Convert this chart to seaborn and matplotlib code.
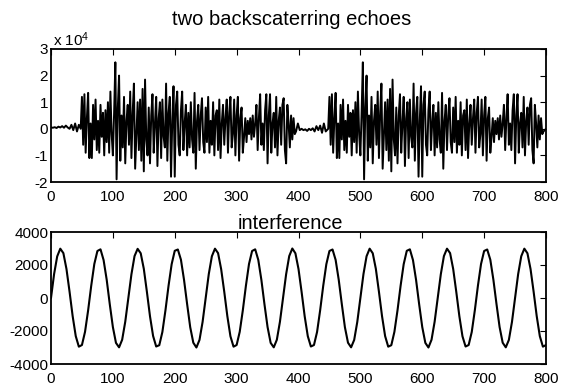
import numpy as np
import pandas as pd
import matplotlib
matplotlib.use("Agg")
import matplotlib.pyplot as plt
import seaborn as sns

# ---------------- data ----------------
# top panel, values in units of 1e4
quiet_a = [0.05, 0.04, 0.06, 0.03, 0.08, 0.05, 0.10, 0.04, 0.12, 0.05,
           0.00, 0.15, -0.05, 0.20, -0.10, 0.15]            # samples 0..45, step 3
echo = [0.0, 1.2, -0.6, 1.3, -0.9, 0.4, 1.35, -1.1, 0.2, -1.1,
        0.9, -0.4, 1.1, -0.8, 0.3, -0.9, 0.9, -0.3, 0.6, -1.0,
        0.7, -0.5, 1.0, -0.9, 1.4, -0.2, -1.0,
        0.6, 2.5, -1.9, 0.8, 2.0, -1.2, 0.5, -0.7, 1.2, -1.3,
        0.3, 0.9, -0.6, 1.4, -1.1, 0.6, 1.7, -1.5, -0.2, 1.0,
        -0.8, 1.1, -1.2, 1.5, -1.6,
        1.85, -0.4, -1.0, 0.8, -1.3, 0.5, 1.3, -0.9, 0.2, 1.2,
        -1.4, 0.4, 1.0, -1.1, 1.1, -0.3, -0.7, 1.7, -1.2, 0.6,
        1.2, -1.8, 0.3, 1.6, -1.8,
        0.9, 1.4, -0.6, -1.0, 0.7, 1.4, -0.8, 0.2, 0.9, -1.0,
        0.6, -0.7, 1.0, -0.4, -0.9, 1.35, -1.5, 0.3, 0.9, -0.8,
        0.5, 1.15, -0.5, -0.9, 0.8,
        -0.5, 1.2, -0.9, 0.3, -0.6, 1.0, -1.0, 0.5, 0.7, -0.8,
        1.1, -1.1, 0.2, 0.9, -0.6, 0.4, 1.1, -0.9, 0.6, 1.2,
        -0.7, -0.2, 1.1, -1.0, 0.5,
        1.2, -1.2, 0.4, 0.8, -0.9, -0.3, 0.4, -0.5, 0.3, -0.2,
        0.4, -0.4, 0.5, -0.3, 0.2, 0.9, -0.8, 0.4, 1.3, -0.6,
        0.2, -0.8, 0.7, 1.3, -1.3,
        0.5, 1.3, -0.9, 0.2, 0.6, -0.7, 1.2, -1.0, 0.3, 0.8,
        -0.6, 0.9, 1.15, -0.8, -1.3, 0.9, 0.2, -0.7, 0.5, -0.4,
        0.4, -0.2, -0.1]                                     # step 2, starts at 48 and at 448
quiet_b = [0.20, -0.05, 0.00, -0.05, -0.02, -0.08, 0.00, -0.05, 0.02, -0.10,
           0.10, -0.05, 0.12, -0.15, 0.20, -0.10]           # samples 399..444, step 3
tail = [0.0]                                                 # sample 800

# bottom panel, sampled every 5 samples
interference = [
    0, 1450, 2520, 2990, 2720, 1760, 380, -1100, -2310, -2950, -2850, -2050, -750, 740, 2060, 2850, 2950, 2300, 1110, -380, -1760, -2720, -2990, -2530, -1440,
    10, 1440, 2540, 2980, 2710, 1770, 370, -1110, -2300, -2940, -2860, -2060, -740, 750, 2050, 2860, 2940, 2320, 1100, -370, -1770, -2710, -3000, -2540, -1450,
    -10, 1450, 2530, 2990, 2720, 1750, 380, -1100, -2320, -2950, -2850, -2050, -750, 740, 2060, 2850, 2950, 2310, 1100, -380, -1760, -2720, -2990, -2530, -1440,
    0, 1440, 2540, 3000, 2710, 1760, 370, -1110, -2310, -2940, -2850, -2060, -740, 750, 2050, 2850, 2940, 2310, 1110, -370, -1770, -2710, -2990, -2540, -1450,
    10, 1450, 2530, 2990, 2710, 1770, 380, -1100, -2310, -2950, -2860, -2050, -750, 740, 2050, 2860, 2950, 2300, 1100, -380, -1760, -2720, -3000, -2530, -1440,
    0, 1440, 2540, 2990, 2720, 1760, 370, -1110, -2320, -2940, -2850, -2060, -740, 750, 2060, 2850, 2940, 2320, 1100, -370, -1760, -2710, -2990, -2540, -1450,
    0, 1450, 2530, 2990, 2710, 1760, 380, -1100, -2310, -2950, -2850]

top_title = "two backscaterring echoes"
bottom_title = "interference"
top_yticks = [-2, -1, 0, 1, 2, 3]
bottom_yticks = [-4000, -2000, 0, 2000, 4000]
xticks = [0, 100, 200, 300, 400, 500, 600, 700, 800]

# ---------------- assemble series ----------------
x_top = np.concatenate([
    np.arange(len(quiet_a)) * 3,
    48 + np.arange(len(echo)) * 2,
    399 + np.arange(len(quiet_b)) * 3,
    448 + np.arange(len(echo)) * 2,
    [800],
])
y_top = np.concatenate([quiet_a, echo, quiet_b, echo, tail])
df_top = pd.DataFrame({"n": x_top, "v": y_top})
df_bot = pd.DataFrame({"n": np.arange(len(interference)) * 5, "v": interference})

# ---------------- plot ----------------
sns.set_theme(style="white")
plt.rcParams["font.family"] = ["Liberation Sans", "DejaVu Sans"]
plt.rcParams["axes.unicode_minus"] = False
plt.rcParams["mathtext.fontset"] = "custom"
plt.rcParams["mathtext.rm"] = "Liberation Sans"
plt.rcParams["mathtext.it"] = "Liberation Sans"
plt.rcParams["text.color"] = "black"
plt.rcParams["axes.labelcolor"] = "black"

fig = plt.figure(figsize=(5.68, 3.87), dpi=100)
ax1 = fig.add_axes([51 / 568, 1 - 182 / 387, 495 / 568, 133 / 387])
ax2 = fig.add_axes([51 / 568, 1 - 364 / 387, 495 / 568, 132 / 387])

sns.lineplot(data=df_top, x="n", y="v", ax=ax1, color="black", lw=1.4,
             estimator=None, sort=False)
sns.lineplot(data=df_bot, x="n", y="v", ax=ax2, color="black", lw=1.5,
             estimator=None, sort=False)

for ax, yt in ((ax1, top_yticks), (ax2, bottom_yticks)):
    ax.set_xlim(0, 800)
    ax.set_ylim(yt[0], yt[-1])
    ax.set_xticks(xticks)
    ax.set_yticks(yt)
    ax.set_xticklabels([str(t) for t in xticks])
    ax.set_yticklabels([str(t) for t in yt])
    ax.set_xlabel("")
    ax.set_ylabel("")
    ax.tick_params(direction="in", top=True, right=True, length=4, width=0.8,
                   labelsize=11, colors="black")
    ax.tick_params(axis="x", pad=6)
    ax.tick_params(axis="y", pad=2)
    for s in ax.spines.values():
        s.set_visible(True)
        s.set_color("black")
        s.set_linewidth(1.3)
    ax.set_facecolor("white")

t1 = ax1.set_title(top_title, fontsize=14.5, pad=17, color="black")
t2 = ax2.set_title(bottom_title, fontsize=14.3, pad=2, color="black")
t1.set_x(0.487)
t2.set_x(0.484)
ax1.text(0.005, 1.0, "x 10$^{4}$", transform=ax1.transAxes, ha="left",
         va="bottom", fontsize=11)

fig.savefig("out.png", dpi=100, facecolor="white")
